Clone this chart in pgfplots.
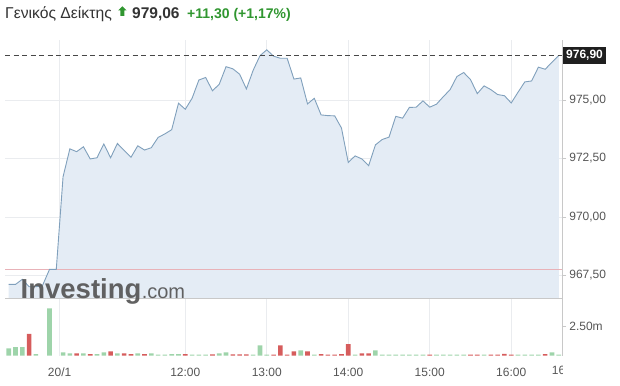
\documentclass[border=0pt]{standalone}
\usepackage{fontspec}
\setmainfont{Liberation Sans}
\usepackage{pgfplots}
\pgfplotsset{compat=1.18}
\usepackage{pgfplotstable}

\definecolor{fillblue}{RGB}{228,236,245}
\definecolor{linecol}{RGB}{128,160,188}
\definecolor{gridc}{RGB}{234,236,239}
\definecolor{volg}{RGB}{158,212,170}
\definecolor{volr}{RGB}{214,92,92}
\definecolor{txtg}{RGB}{51,51,51}
\definecolor{labg}{RGB}{85,85,85}
\definecolor{upg}{RGB}{48,150,48}
\definecolor{prevred}{RGB}{232,178,184}
\definecolor{axisc}{RGB}{200,200,200}
\definecolor{logoc}{RGB}{88,88,88}

\pgfplotstableread{
i p
0 967.12
1 967.12
2 967.34
3 967.02
4 967.02
5 967.09
6 967.76
7 967.76
8 971.72
9 972.91
10 972.79
11 973.00
12 972.48
13 972.53
14 973.12
15 972.53
16 973.14
17 972.84
18 972.55
19 973.04
20 972.86
21 972.96
22 973.40
23 973.55
24 973.73
25 974.86
26 974.60
27 975.07
28 975.85
29 975.96
30 975.39
31 975.67
32 976.42
33 976.33
34 976.10
35 975.47
36 976.27
37 976.89
38 977.14
39 976.87
40 976.78
41 976.78
42 975.89
43 975.94
44 974.83
45 975.07
46 974.36
47 974.33
48 974.32
49 973.80
50 972.33
51 972.61
52 972.48
53 972.19
54 973.08
55 973.31
56 973.41
57 974.30
58 974.22
59 974.68
60 974.69
61 974.96
62 974.69
63 974.82
64 975.14
65 975.44
66 976.00
67 976.17
68 975.87
69 975.27
70 975.60
71 975.44
72 975.23
73 975.18
74 974.87
75 975.33
76 975.77
77 975.81
78 976.40
79 976.31
80 976.61
81 976.90
}\price

\pgfplotstableread{
i v
0 0.62
1 0.73
2 0.73
4 0.14
6 3.98
8 0.28
9 0.20
11 0.20
13 0.14
14 0.28
16 0.20
19 0.20
21 0.20
22 0.08
23 0.08
24 0.14
25 0.14
27 0.08
28 0.10
29 0.10
31 0.20
32 0.28
36 0.08
37 0.87
38 0.08
43 0.45
45 0.08
51 0.08
54 0.45
55 0.08
56 0.10
57 0.10
58 0.08
59 0.08
60 0.08
61 0.08
63 0.08
64 0.10
65 0.08
66 0.10
67 0.08
70 0.10
75 0.08
76 0.08
77 0.08
78 0.08
80 0.28
81 0.08
}\volgreen

\pgfplotstableread{
i v
3 1.83
10 0.20
12 0.14
15 0.36
17 0.20
18 0.14
20 0.14
26 0.14
30 0.11
33 0.11
34 0.11
35 0.11
39 0.08
40 0.87
41 0.08
42 0.36
44 0.36
46 0.14
47 0.08
48 0.08
49 0.14
50 0.98
52 0.20
53 0.20
62 0.08
68 0.08
69 0.08
71 0.08
72 0.08
73 0.15
74 0.08
79 0.14
}\volred

\begin{document}
\begin{tikzpicture}
\useasboundingbox (0pt,0pt) rectangle (620pt,385pt);

% ---------- price panel ----------
\begin{axis}[
  at={(5pt,87pt)}, anchor=south west,
  scale only axis, width=557.3pt, height=258pt,
  xmin=-0.55, xmax=81.52, ymin=966.54, ymax=977.56,
  axis line style={draw=none},
  xtick={7.5,26,38,50,62,74}, xticklabels={},
  xtick style={draw=none},
  ytick={967.5,970,972.5,975},
  yticklabels={{967,50},{970,00},{972,50},{975,00}},
  ytick pos=right, yticklabel pos=right, tick align=outside,
  major tick length=4pt,
  ytick style={axisc, line width=0.6pt},
  yticklabel style={font=\fontsize{12}{14}\selectfont, text=labg, xshift=-0.5pt},
  /pgf/number format/assume math mode=true,
  xmajorgrids, ymajorgrids,
  major grid style={gridc, line width=0.7pt},
  clip mode=individual,
]
\addplot[draw=none, fill=fillblue] table[x=i,y=p] {\price} \closedcycle;
% previous close (967,75) as a thin band
\addplot[draw=none, fill=prevred] coordinates {(-0.55,967.718) (81.52,967.718) (81.52,967.782) (-0.55,967.782)} -- cycle;
\addplot[color=linecol, line width=0.9pt] table[x=i,y=p] {\price};
\addplot[color=black!72, line width=0.8pt, dash pattern=on 5pt off 3.5pt] coordinates {(-0.55,976.90) (81.52,976.90)};
\node[anchor=west, fill=black!88, text=white, inner xsep=3pt, inner ysep=3pt,
      text height=9pt, text depth=2pt,
      font=\bfseries\fontsize{12}{14}\selectfont] at (axis cs:81.52,976.90) [xshift=0.7pt] {976,90};
\end{axis}

% ---------- volume panel ----------
\begin{axis}[
  at={(5pt,29.3pt)}, anchor=south west,
  scale only axis, width=557.3pt, height=57.7pt,
  xmin=-0.55, xmax=81.52, ymin=0, ymax=4.857,
  axis line style={draw=none},
  xtick={7.5,26,38,50,62,74},
  xticklabels={20/1,12:00,13:00,14:00,15:00,16:00},
  xtick style={draw=none},
  xticklabel style={font=\fontsize{12}{14}\selectfont, text=labg, yshift=-5pt},
  ytick={2.5}, yticklabels={2.50m},
  ytick pos=right, yticklabel pos=right, tick align=outside,
  major tick length=4pt,
  ytick style={axisc, line width=0.6pt},
  yticklabel style={font=\fontsize{12}{14}\selectfont, text=labg, xshift=-0.5pt},
  /pgf/number format/assume math mode=true,
  xmajorgrids,
  major grid style={gridc, line width=0.7pt},
]
\addplot[ybar, bar shift=0pt, bar width=4.6pt, fill=volg, draw=none] table[x=i,y=v] {\volgreen};
\addplot[ybar, bar shift=0pt, bar width=4.6pt, fill=volr, draw=none] table[x=i,y=v] {\volred};
\end{axis}

% frame lines
\draw[axisc, line width=0.8pt] (5pt,87pt) -- (562.3pt,87pt);
\draw[axisc, line width=0.8pt] (562.3pt,29.3pt) -- (562.3pt,345pt);

% clipped last time label
\begin{scope}
\clip (540pt,0pt) rectangle (562pt,28pt);
\node[anchor=west, inner sep=0pt, text=labg, font=\fontsize{12}{14}\selectfont] at (551.7pt,14.6pt) {16:30};
\end{scope}

% logo
\node[anchor=base west, inner sep=0pt, text=logoc, opacity=0.94,
      font=\bfseries\fontsize{27.5}{30}\selectfont] (inv) at (20.5pt,86pt) {Investing};
\node[anchor=base west, inner sep=0pt, text=logoc, opacity=0.94,
      font=\fontsize{20}{22}\selectfont] at (inv.base east) {.com};

% header
\node[anchor=base west, inner sep=0pt, text=txtg, font=\fontsize{15.7}{17}\selectfont] at (5pt,366.7pt) {Γενικός Δείκτης};
\fill[upg] (118pt,374.5pt) -- (122.3pt,378.7pt) -- (126.6pt,374.5pt) -- (124.3pt,374.5pt) -- (124.3pt,369pt) -- (120.3pt,369pt) -- (120.3pt,374.5pt) -- cycle;
\node[anchor=base west, inner sep=0pt, text=txtg, font=\bfseries\fontsize{15.5}{17}\selectfont] at (132pt,366.7pt) {979,06};
\node[anchor=base west, inner sep=0pt, text=upg, font=\bfseries\fontsize{14}{17}\selectfont] at (187pt,366.7pt) {+11,30 (+1,17\%)};
\end{tikzpicture}
\end{document}
